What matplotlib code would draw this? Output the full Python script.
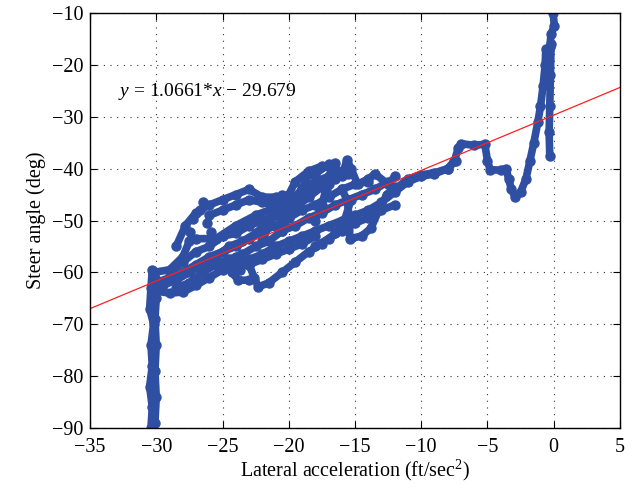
import matplotlib
matplotlib.use('Agg')
import matplotlib.pyplot as plt

plt.rcParams['font.family'] = ['Liberation Serif', 'DejaVu Serif']
plt.rcParams['mathtext.fontset'] = 'custom'
plt.rcParams['mathtext.rm'] = 'Liberation Serif'
plt.rcParams['mathtext.it'] = 'Liberation Serif:italic'

# fit line
slope = 1.0661
intercept = -29.679
fit_x = [-35, 5]

# traces (lateral accel, steer angle)
column_x = [-30.4, -30.3, -30.5, -30.3, -30.4, -30.2, -30.5, -30.4, -30.3]
column_y = [-90, -86, -82, -78, -74, -70, -67, -63, -59.5]
column2_x = [-30.1, -30.0, -30.1, -30.0, -30.1, -30.0, -30.1]
column2_y = [-89, -84, -79, -74, -69, -65, -61]

band_x = [-30.3, -29, -28, -27, -26, -25, -24, -23, -22, -21, -20, -19, -18,
          -17, -16, -15, -14, -13, -12, -11, -10, -9, -8, -7.4]
band_y = [-63.5, -64, -63.8, -62.5, -61, -59.5, -58.5, -57.5, -56.5, -55, -54,
          -53, -52, -51, -50, -49, -48, -46.5, -44.5, -42.5, -41.5, -41, -40, -38.5]

mid_x = [-30, -29, -28, -27, -26, -25, -24, -23, -22, -21, -20, -19, -18, -17,
         -16, -15, -14]
mid_y = [-62, -61, -60, -58.5, -57, -56, -55, -53.5, -52, -51, -49.5, -48, -47,
         -45.5, -44, -43, -42.5]

upper_x = [-30.2, -29, -28, -27.5, -27, -25.5, -24, -22.5, -21, -19.5, -18, -17]
upper_y = [-60, -59.5, -57, -54, -53.5, -53.5, -51, -49, -47.5, -46, -44, -43]

top_x = [-28.5, -27.8, -27, -26, -25, -24, -23, -22, -21, -20, -19.5, -18.5,
         -17.5, -16.8]
top_y = [-55, -51, -48.5, -47, -46, -45, -44, -45.5, -45.5, -45, -42.5, -40.5,
         -39.5, -40]

fill1_x = [-29.5, -28.5, -27.5, -26.5, -25.5, -24.5, -23.5, -22.5, -21.5, -20.5,
           -19.5, -18.5, -17.5, -16.5, -15.5]
fill1_y = [-62.5, -61.5, -60, -58.5, -57, -55, -54, -52.5, -50, -48.5, -47.5,
           -45.5, -43.5, -42, -41]

fill2_x = [-29, -28, -27, -26, -25, -24, -23, -22, -21, -20, -19, -18]
fill2_y = [-60, -58, -56, -55, -53, -52.5, -51, -50, -49, -47.5, -45.5, -43]

fill3_x = [-28.5, -27.5, -26.5, -25.5, -24.5, -23.5, -22.5, -21.5, -20.5, -19.5,
           -18.5, -17.5, -16.5, -15.5, -14.5, -13.5, -12.5]
fill3_y = [-63, -62, -60, -58.5, -57.5, -56.5, -55, -54, -52, -51, -49.5, -48.5,
           -47, -46, -45, -44, -42.5]

fill4_x = [-24, -23, -22, -21, -20, -19, -18]
fill4_y = [-59, -58.5, -57.5, -56.5, -55.5, -54.5, -53]

shelf_x = [-26, -25, -24, -23, -22, -21, -20, -19, -18, -17, -16]
shelf_y = [-49, -48, -47, -46, -46.5, -47, -46.5, -44, -42.5, -41.5, -40.5]

steep1_x = [-20.5, -20, -19.5, -19, -18.5]
steep1_y = [-52, -49, -46, -44, -41]
steep2_x = [-18, -17.5, -17.2, -16.8, -16.5]
steep2_y = [-50, -47, -44, -41, -39]
steep3_x = [-22, -21.5, -21, -20.5]
steep3_y = [-54, -51, -48, -45]

low_x = [-18, -17, -16, -15, -14, -13, -12]
low_y = [-55, -53.5, -52, -50.5, -49.5, -48, -47]

loop_x = [-24, -23, -22.6, -22.3, -21.5, -20.5, -19.5, -18.5, -17.5, -16.5,
          -15.8, -15.3]
loop_y = [-57, -58.5, -61, -62.8, -62, -60, -58, -56, -54.5, -52.5, -50, -46]

bump_x = [-25, -24.3, -23.8, -23]
bump_y = [-58, -60, -61.5, -61.5]

dip_x = [-16, -15.6, -15.4, -15.4, -14.5, -13.8, -13.2, -12.6, -12]
dip_y = [-44, -46, -50, -53.5, -53, -51.5, -48, -45, -43.5]

crest_x = [-18, -17, -16.5, -16, -15.6, -15.3, -14.8, -14, -13.5, -12.5, -12]
crest_y = [-41, -39.2, -40, -41.5, -38.3, -40, -43, -42, -41, -43, -41.5]

right_x = [-12, -11, -10, -9, -8, -7.5, -7.2, -7, -6, -5.2, -5, -4.8, -4, -3.6,
           -3.4, -3.2, -2.9, -2.5, -2.1, -1.8, -1.5, -1.2, -1.0, -0.8, -0.65,
           -0.6, -0.3, -0.2, 0.05, -0.05]
right_y = [-44, -42, -41.2, -40.8, -40, -38.5, -36, -35.2, -35.5, -35.3, -38.5,
           -40.2, -40.3, -40, -42, -44, -45.5, -44.5, -42, -38.5, -35, -31, -28,
           -24, -20, -17, -16.5, -14, -12.5, -10]

fall_x = [-0.2, -0.25, -0.3, -0.35, -0.3]
fall_y = [-16, -22, -28, -33, -37.5]

loose_x = [-27.45, -26.7, -27.2, -26.2, -25.9, -26.5, -23.7]
loose_y = [-52.2, -48, -49.7, -50.5, -52.2, -46.4, -59.5]

tracks = [(column_x, column_y), (column2_x, column2_y), (band_x, band_y),
          (mid_x, mid_y), (upper_x, upper_y), (top_x, top_y),
          (fill1_x, fill1_y), (fill2_x, fill2_y), (fill3_x, fill3_y),
          (fill4_x, fill4_y), (shelf_x, shelf_y), (steep1_x, steep1_y),
          (steep2_x, steep2_y), (steep3_x, steep3_y), (low_x, low_y),
          (loop_x, loop_y), (bump_x, bump_y), (dip_x, dip_y),
          (crest_x, crest_y), (right_x, right_y), (fall_x, fall_y)]

blue = '#2f4fa3'

fig = plt.figure(figsize=(6.37, 4.91), dpi=100)
ax = fig.add_axes([0.1413, 0.1283, 0.8320, 0.8452])

for tx, ty in tracks:
    ax.plot(tx, ty, '-o', color=blue, lw=5.5, ms=6.5, solid_capstyle='round',
            solid_joinstyle='round')
ax.plot(loose_x, loose_y, 'o', color=blue, ms=6.5)

fit_y = [slope * v + intercept for v in fit_x]
ax.plot(fit_x, fit_y, color='#ff2020', lw=0.9)

ax.text(-32.9, -25.2, '$y$ = 1.0661*$x$ \u2212 29.679', fontsize=14, va='center')

ax.set_xlim(-35, 5)
ax.set_ylim(-90, -10)
ax.set_xticks(range(-35, 6, 5))
ax.set_yticks(range(-90, -9, 10))
ax.grid(True, color='#333333', linestyle=(0, (1, 5)), lw=0.8)
ax.tick_params(direction='in', top=True, right=True, labelsize=14.5, length=5)
ax.tick_params(axis='x', pad=7)
ax.tick_params(axis='y', pad=5)
for s in ax.spines.values():
    s.set_linewidth(1.0)
ax.set_xlabel('Lateral acceleration (ft/sec$^2$)', fontsize=14.5, labelpad=1)
ax.set_ylabel('Steer angle (deg)', fontsize=14.5, labelpad=4)

fig.savefig('out.png', dpi=100)
